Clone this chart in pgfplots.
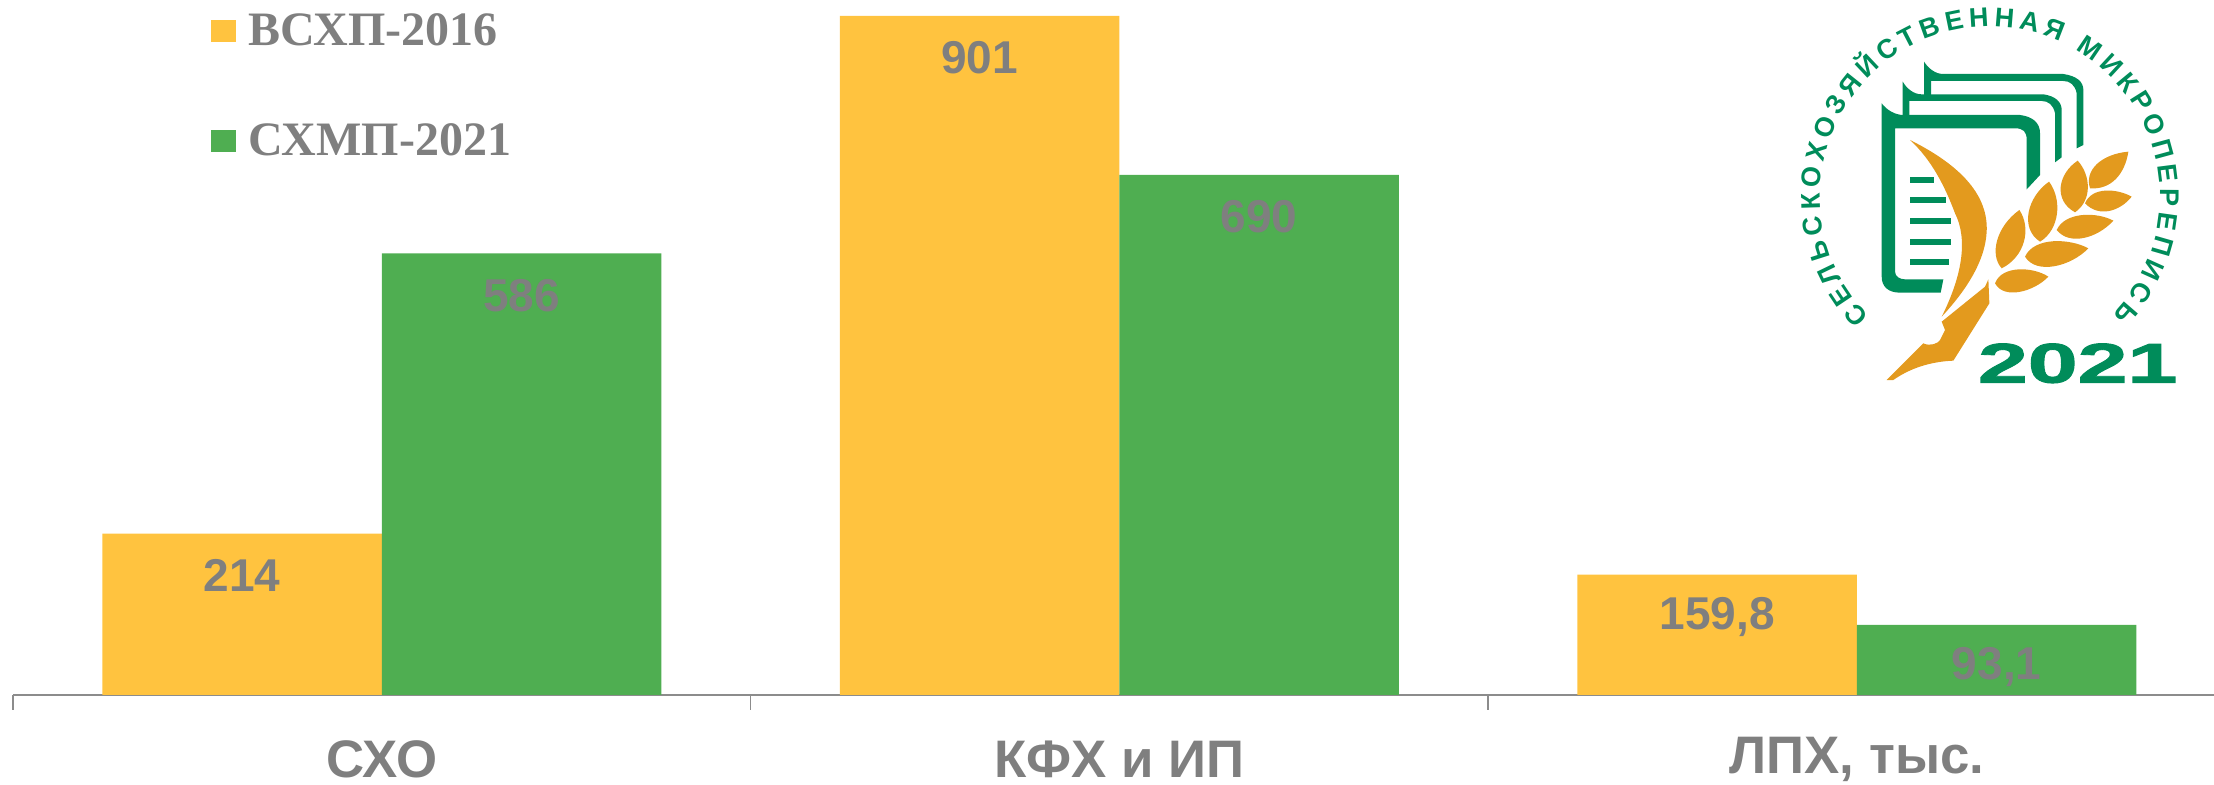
\documentclass[border=0pt]{standalone}
\usepackage{pgfplots}
\pgfplotsset{compat=1.18}
\usepackage{fontspec}
\setmainfont{Liberation Sans}
\newfontfamily\legendfont{Liberation Serif}
\newfontfamily\fatfont{Liberation Sans Bold}[FakeBold=1.5]
\usetikzlibrary{decorations.text}
\definecolor{barY}{HTML}{FFC33F}
\definecolor{barG}{HTML}{4FAE51}
\definecolor{txt}{HTML}{7F7F7F}
\definecolor{axisc}{HTML}{8C8C8C}
\definecolor{logoG}{HTML}{008C5A}
\definecolor{logoO}{HTML}{E39A1E}
\begin{document}
\begin{tikzpicture}
\useasboundingbox (0,0) rectangle (1107pt,392.5pt);
\begin{axis}[
  at={(6.5pt,45pt)}, anchor=south west,
  scale only axis, width=1100.5pt, height=347.5pt,
  ybar=0pt, bar width=139.75pt,
  xmin=-0.5, xmax=2.484, ymin=0, ymax=922,
  axis x line=bottom, axis line style={axisc,line width=0.7pt,-},
  hide y axis, clip=false,
  xtick={0,1,2}, xticklabels={СХО,КФХ и ИП,ЛПХ{,} тыс.},
  minor xtick={-0.5,0.5,1.5},
  major tick length=0pt, minor tick length=7.5pt,
  tick align=outside, minor tick style={axisc,line width=0.7pt},
  xticklabel style={font=\fontsize{26.4}{26.4}\selectfont\bfseries, text=txt, anchor=center, yshift=-32pt},
  /pgf/number format/assume math mode=true,
  /pgf/number format/use comma,
  /pgf/number format/1000 sep={},
  nodes near coords,
  nodes near coords style={font=\fontsize{23}{23}\selectfont\bfseries, text=txt, anchor=center, yshift=-21pt},
  legend cell align=left,
  legend style={draw=none, fill=none, at={(99pt,342.8pt)}, anchor=north west, row sep=33.5pt,
    font=\fontsize{24}{24}\selectfont\bfseries\legendfont, text=txt, inner sep=0pt, outer sep=0pt},
  legend image code/.code={\fill[#1] (0pt,-5.5pt) rectangle (12.5pt,5.5pt);\path (16.7pt,0pt);},
]
\addplot[fill=barY, draw=none] coordinates {(0,214) (1,901) (2,159.8)};
\addlegendentry{ВСХП-2016}
\addplot[fill=barG, draw=none] coordinates {(0,586) (1,690) (2,93.1)};
\addlegendentry{СХМП-2021}
\end{axis}
% logo
\path[decorate,decoration={text along path,
   text={|\fontsize{13.5}{13.5}\selectfont\bfseries\color{logoG}|СЕЛЬСКОХОЗЯЙСТВЕННАЯ МИКРОПЕРЕПИСЬ},
   text align={fit to path}}]
   (995pt,294.2pt) ++(225:85pt) arc[start angle=225,end angle=-44,radius=85pt];
\begin{scope}[shift={(850pt,392.5pt)},x=0.16667pt,y=-0.16667pt]
 \fill[logoG] (545,310) .. controls (560,330) and (585,345) .. (610,345) -- (960,345)
   .. controls (1000,350) and (1020,370) .. (1020,400) -- (1020,525) -- (980,568) -- (980,420)
   .. controls (980,395) and (970,385) .. (945,385) -- (585,385) -- (585,815)
   .. controls (585,830) and (600,838) .. (615,838) -- (730,838) -- (722,878) -- (600,878)
   .. controls (565,878) and (545,860) .. (545,830) -- cycle;
 \fill[logoG] (608,245) .. controls (620,265) and (640,283) .. (665,283) -- (1030,283)
   .. controls (1065,288) and (1085,305) .. (1085,330) -- (1085,472) -- (1065,487) -- (1065,340)
   .. controls (1060,315) and (1045,303) .. (1025,303) -- (628,303) -- (628,345) -- (608,345) -- cycle;
 \fill[logoG] (672,185) .. controls (685,205) and (705,222) .. (730,222) -- (1090,222)
   .. controls (1130,228) and (1150,245) .. (1150,270) -- (1150,435) -- (1130,445) -- (1130,280)
   .. controls (1125,255) and (1110,243) .. (1090,243) -- (693,243) -- (693,285) -- (672,285) -- cycle;
 \fill[logoG] (630,530) rectangle (703,548);
 \fill[logoG] (630,592) rectangle (737,610);
 \fill[logoG] (630,653) rectangle (752,672);
 \fill[logoG] (630,716) rectangle (752,735);
 \fill[logoG] (630,776) rectangle (748,795);
 \fill[logoO] (630,420) .. controls (790,500) and (865,590) .. (860,695)
   .. controls (855,790) and (790,880) .. (725,950)
   .. controls (785,830) and (805,720) .. (765,640)
   .. controls (735,560) and (695,480) .. (630,420) -- cycle;
 \fill[logoO] (865,838) -- (868,910) -- (760,1082) .. controls (690,1085) and (630,1105) .. (580,1140)
   -- (560,1140) -- (670,1030) .. controls (690,1040) and (715,1030) .. (720,1020)
   -- (735,990) -- (725,965) -- (855,860) -- cycle;
 \fill[logoO] (958,630) .. controls (888,680) and (868,765) .. (905,805) .. controls (975,770) and (995,685) .. (958,630) -- cycle;
 \fill[logoO] (1047,545) .. controls (982,590) and (958,685) .. (1020,725) .. controls (1078,690) and (1088,600) .. (1047,545) -- cycle;
 \fill[logoO] (1133,482) .. controls (1075,520) and (1058,600) .. (1125,637) .. controls (1178,600) and (1172,525) .. (1133,482) -- cycle;
 \fill[logoO] (1285,455) .. controls (1205,462) and (1152,510) .. (1170,565) .. controls (1235,570) and (1275,520) .. (1285,455) -- cycle;
 \fill[logoO] (1295,590) .. controls (1250,565) and (1175,560) .. (1155,610) .. controls (1198,655) and (1262,632) .. (1295,590) -- cycle;
 \fill[logoO] (1240,662) .. controls (1190,635) and (1095,635) .. (1070,690) .. controls (1108,738) and (1192,715) .. (1240,662) -- cycle;
 \fill[logoO] (1165,745) .. controls (1110,715) and (1002,710) .. (975,770) .. controls (1008,825) and (1112,800) .. (1165,745) -- cycle;
 \fill[logoO] (1045,830) .. controls (1000,800) and (905,795) .. (885,850) .. controls (912,900) and (1002,875) .. (1045,830) -- cycle;
 \node[text=logoG, font=\fontsize{28}{28}\selectfont\fatfont, xscale=1.6, anchor=center] at (1133,1090) {2021};
\end{scope}
\end{tikzpicture}
\end{document}
